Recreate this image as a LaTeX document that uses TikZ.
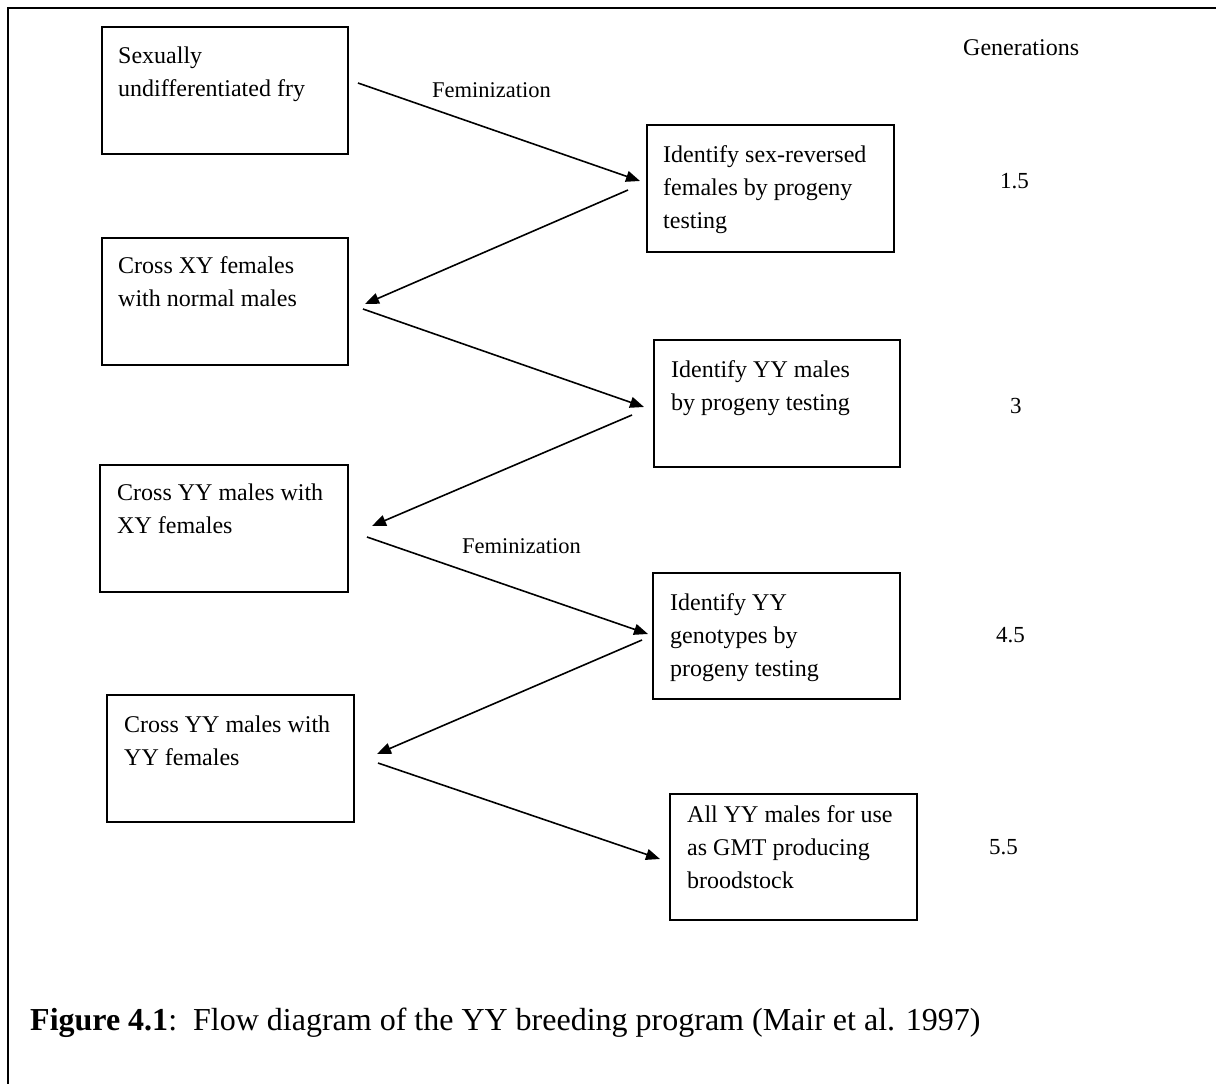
\documentclass[tikz,border=0pt]{standalone}
\usepackage{fontspec}
\setmainfont{Liberation Serif}
\usetikzlibrary{arrows.meta}
\begin{document}
\begin{tikzpicture}[x=1pt,y=-1pt,
  box/.style={draw, line width=1.6pt, inner sep=0pt, anchor=north west},
  txt/.style={anchor=base west, inner sep=0pt, font=\fontsize{24}{33}\selectfont},
  gen/.style={anchor=base west, inner sep=0pt, font=\fontsize{23}{28}\selectfont},
  lbl/.style={anchor=base west, inner sep=0pt, font=\fontsize{22.5}{27}\selectfont},
  conn/.style={line width=1.6pt, -{Triangle[length=14pt,width=11pt]}}]
\useasboundingbox (0,0) rectangle (1216,1084);
\fill[white] (0,0) rectangle (1216,1084);
% outer frame (open at right and bottom)
\draw[line width=2.4pt] (8,1084) -- (8,8) -- (1216,8);

% boxes
\node[box, minimum width=246pt, minimum height=127pt] (b1) at (101,26) {};
\node[box, minimum width=247pt, minimum height=127pt] (b2) at (646,124) {};
\node[box, minimum width=246pt, minimum height=127pt] (b3) at (101,237) {};
\node[box, minimum width=246pt, minimum height=127pt] (b4) at (653,339) {};
\node[box, minimum width=248pt, minimum height=127pt] (b5) at (99,464) {};
\node[box, minimum width=247pt, minimum height=126pt] (b6) at (652,572) {};
\node[box, minimum width=247pt, minimum height=127pt] (b7) at (106,694) {};
\node[box, minimum width=247pt, minimum height=126pt] (b8) at (669,793) {};

% box texts
\node[txt] (t1) at (118,63) {\parbox[t]{226pt}{Sexually\\undifferentiated fry}};
\node[txt] (t2) at (663,162) {\parbox[t]{226pt}{Identify sex-reversed\\females by progeny\\testing}};
\node[txt] (t3) at (118,273) {\parbox[t]{226pt}{Cross XY females\\with normal males}};
\node[txt] (t4) at (671,377) {\parbox[t]{226pt}{Identify YY males\\by progeny testing}};
\node[txt] (t5) at (117,500) {\parbox[t]{226pt}{Cross YY males with\\XY females}};
\node[txt] (t6) at (670,610) {\parbox[t]{226pt}{Identify YY\\genotypes by\\progeny testing}};
\node[txt] (t7) at (124,732) {\parbox[t]{226pt}{Cross YY males with\\YY females}};
\node[txt] (t8) at (687,822) {\parbox[t]{226pt}{All YY males for use\\as GMT producing\\broodstock}};

% generations column
\node[txt] (gh) at (963,55) {Generations};
\node[gen] (g1) at (1000,188) {1.5};
\node[gen] (g2) at (1010,413) {3};
\node[gen] (g3) at (996,642) {4.5};
\node[gen] (g4) at (989,854) {5.5};

% feminization labels
\node[lbl] (f1) at (432,97) {Feminization};
\node[lbl] (f2) at (462,553) {Feminization};

% connector end points
\coordinate (a1s) at (358,83);  \coordinate (a1e) at (640,181);
\coordinate (a2s) at (628,190); \coordinate (a2e) at (365,304);
\coordinate (a3s) at (363,309); \coordinate (a3e) at (644,407);
\coordinate (a4s) at (632,415); \coordinate (a4e) at (372,526);
\coordinate (a5s) at (367,537); \coordinate (a5e) at (648,634);
\coordinate (a6s) at (642,640); \coordinate (a6e) at (377,754);
\coordinate (a7s) at (378,763); \coordinate (a7e) at (660,859);

\draw[conn] (a1s) -- (a1e);
\draw[conn] (a2s) -- (a2e);
\draw[conn] (a3s) -- (a3e);
\draw[conn] (a4s) -- (a4e);
\draw[conn] (a5s) -- (a5e);
\draw[conn] (a6s) -- (a6e);
\draw[conn] (a7s) -- (a7e);

% caption
\node[anchor=base west, inner sep=0pt, font=\fontsize{32}{38}\selectfont] (cap) at (30,1030)
  {\textbf{Figure 4.1}:\ \ Flow diagram of the YY breeding program (Mair et al. 1997)};
\end{tikzpicture}
\end{document}
